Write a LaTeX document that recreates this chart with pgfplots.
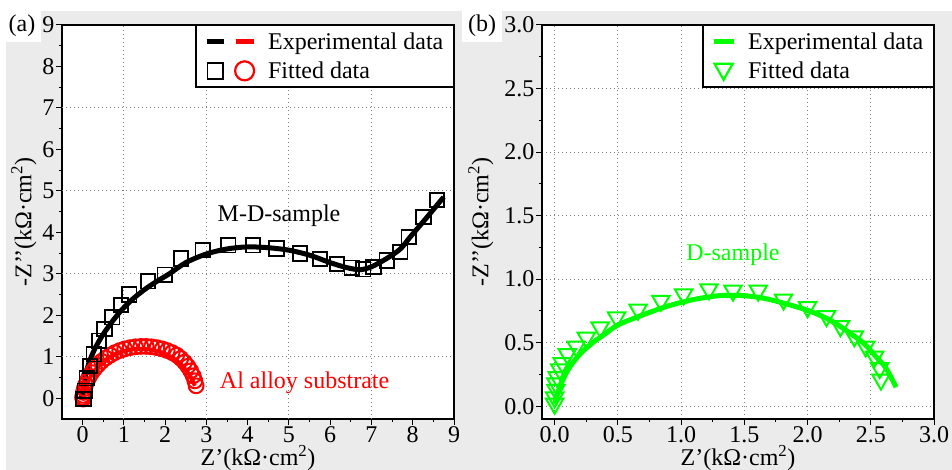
\documentclass[border=0pt]{standalone}
\usepackage{fontspec}
\setmainfont{Liberation Serif}
\usepackage{pgfplots}
\pgfplotsset{compat=1.18}
\definecolor{bgray}{RGB}{235,235,235}
\definecolor{ggreen}{RGB}{0,255,0}
\definecolor{rred}{RGB}{255,0,0}
\newcommand\fs{\fontsize{24bp}{28bp}\selectfont}

\pgfplotsset{
  panel/.style={
    scale only axis, width=392bp, height=394bp, anchor=south west,
    axis background/.style={fill=white},
    axis line style={line width=1.3bp},
    tick align=outside, xtick pos=bottom, ytick pos=left,
    major tick length=6bp, minor tick length=3bp,
    every tick/.style={black, line width=1bp},
    tick label style={font=\fs, inner sep=1.5bp},
    /pgf/number format/assume math mode=true,
    label style={font=\fs},
    xlabel={Z’(kΩ·cm\textsuperscript{2})},
    ylabel={-Z’’(kΩ·cm\textsuperscript{2})},
    xlabel style={at={(axis description cs:0.5,-0.1)}, anchor=center},
    grid style={gray, line width=0.9bp, dash pattern=on 1bp off 3bp},
    legend style={at={(1,1)}, anchor=north east, draw=black, fill=white,
      line width=1.3bp, font=\fs, inner xsep=8bp, inner ysep=5bp, row sep=7bp,
      /tikz/every odd column/.append style={column sep=10bp}},
    legend cell align=left,
  },
}

\begin{document}
\begin{tikzpicture}[x=1bp,y=1bp]
\useasboundingbox (0,0) rectangle (952,470);
\fill[white] (0,0) rectangle (952,470);
\fill[bgray] (6,0) rectangle (952,459);
\fill[white] (0,428) rectangle (41,459);
\fill[white] (462,428) rectangle (502,459);
\node[font=\fs, inner sep=0] at (22,444) {(a)};
\node[font=\fs, inner sep=0] at (482,444) {(b)};

% ---------- (a) ----------
\begin{axis}[panel, at={(62bp,51bp)},
  xmin=-0.5, xmax=9, ymin=-0.5, ymax=9,
  xtick={0,1,...,9}, ytick={0,1,...,9},
  minor x tick num=1, minor y tick num=1,
  extra x ticks={1,3,5,7}, extra y ticks={1,3,5,7},
  extra x tick labels={}, extra y tick labels={},
  extra tick style={grid=major, major tick length=0pt},
  ylabel style={at={(axis description cs:-0.097,0.5)}, anchor=center},
]
\addlegendimage{legend image code/.code={
  \draw[black, line width=5bp] (0bp,0bp) -- (17bp,0bp);
  \draw[rred, line width=5bp] (29bp,0bp) -- (47bp,0bp);}}
\addlegendentry{Experimental data}
\addlegendimage{legend image code/.code={
  \draw[black, line width=1.8bp] (0.9bp,-8bp) rectangle (16.1bp,8bp);
  \draw[rred, line width=2.2bp] (38bp,0bp) circle (9.5bp);}}
\addlegendentry{Fitted data}

% Al alloy substrate: experimental
\addplot[forget plot, rred, line width=4bp, smooth] coordinates {
 (0.02,-0.03) (0.05,0.15) (0.10,0.32) (0.18,0.50) (0.30,0.68) (0.45,0.84)
 (0.62,0.97) (0.80,1.07) (1.00,1.14) (1.20,1.18) (1.40,1.19) (1.60,1.18)
 (1.80,1.14) (2.00,1.07) (2.20,0.96) (2.38,0.82) (2.52,0.66) (2.63,0.50) (2.72,0.30)
};
% Al alloy substrate: fitted
\addplot[forget plot, only marks, mark=o, mark size=7.4bp, rred,
  mark options={line width=2bp}] coordinates {
 (0.01,-0.02) (0.00,0.02) (0.01,0.07) (0.02,0.14) (0.04,0.23) (0.07,0.32)
 (0.11,0.42) (0.16,0.52) (0.22,0.62) (0.29,0.71) (0.37,0.80) (0.46,0.89)
 (0.56,0.97) (0.67,1.04) (0.78,1.10) (0.90,1.15) (1.02,1.19) (1.15,1.22)
 (1.28,1.24) (1.41,1.25) (1.54,1.25) (1.67,1.24) (1.80,1.22) (1.93,1.19)
 (2.05,1.15) (2.17,1.10) (2.28,1.04) (2.38,0.96) (2.47,0.87) (2.55,0.77)
 (2.62,0.66) (2.68,0.54) (2.72,0.42) (2.75,0.30)
};
% M-D-sample: experimental
\addplot[forget plot, black, line width=5bp, smooth] coordinates {
 (-0.03,0.00) (0.02,0.30) (0.08,0.60) (0.17,0.90) (0.30,1.20) (0.47,1.50)
 (0.68,1.80) (0.92,2.10) (1.20,2.38) (1.50,2.62) (1.80,2.82) (2.10,3.00)
 (2.50,3.27) (3.00,3.48) (3.50,3.60) (4.00,3.65) (4.50,3.63) (5.00,3.57)
 (5.50,3.45) (6.00,3.27) (6.40,3.15) (6.72,3.10) (7.00,3.17) (7.37,3.37)
 (7.70,3.60) (7.94,3.89) (8.35,4.37) (8.75,4.85)
};
% M-D-sample: fitted
\addplot[forget plot, only marks, mark=square, mark size=7.2bp, black,
  mark options={line width=1.8bp}] coordinates {
 (0.02,-0.02) (0.05,0.18) (0.10,0.48) (0.18,0.78) (0.27,1.06) (0.40,1.39)
 (0.53,1.67) (0.72,1.95) (0.93,2.25) (1.13,2.50) (1.58,2.82) (1.99,2.98)
 (2.38,3.37) (2.91,3.57) (3.53,3.69) (4.13,3.69) (4.70,3.61) (5.27,3.49)
 (5.75,3.36) (6.16,3.24) (6.52,3.15) (6.80,3.11) (7.05,3.16) (7.37,3.32)
 (7.70,3.53) (7.90,3.89) (8.26,4.37) (8.59,4.78)
};
\node[font=\fs, black] at (axis cs:4.76,4.41) {M-D-sample};
\node[font=\fs, rred] at (axis cs:5.38,0.38) {Al alloy substrate};
\end{axis}

% ---------- (b) ----------
\begin{axis}[panel, at={(542bp,51bp)},
  xmin=-0.1, xmax=3, ymin=-0.1, ymax=3,
  xtick={0,0.5,...,3}, ytick={0,0.5,...,3},
  minor x tick num=1, minor y tick num=1,
  grid=major,
  ylabel style={at={(axis description cs:-0.156,0.5)}, anchor=center},
  xticklabel style={/pgf/number format/.cd, fixed, fixed zerofill, precision=1},
  yticklabel style={/pgf/number format/.cd, fixed, fixed zerofill, precision=1},
]
\addlegendimage{legend image code/.code={
  \draw[ggreen, line width=5bp] (0bp,0bp) -- (20bp,0bp);}}
\addlegendentry{Experimental data}
\addlegendimage{legend image code/.code={
  \draw[ggreen, line width=2.2bp] (1bp,7bp) -- (19bp,7bp) -- (10bp,-9bp) -- cycle;}}
\addlegendentry{Fitted data}

\addplot[forget plot, ggreen, line width=5bp, smooth] coordinates {
 (0.00,0.02) (0.03,0.12) (0.07,0.22) (0.12,0.31) (0.20,0.41) (0.30,0.50)
 (0.40,0.57) (0.50,0.64) (0.70,0.72) (0.90,0.79) (1.10,0.84) (1.30,0.87)
 (1.50,0.87) (1.70,0.84) (2.00,0.755) (2.20,0.665) (2.40,0.53) (2.46,0.48)
 (2.55,0.38) (2.62,0.30) (2.70,0.15)
};
\addplot[forget plot, only marks, mark=triangle, mark size=10bp, ggreen,
  mark options={line width=2bp, rotate=180}] coordinates {
 (0.00,0.02) (0.00,0.07) (0.01,0.13) (0.01,0.18) (0.02,0.23) (0.04,0.29)
 (0.06,0.34) (0.10,0.41) (0.17,0.47) (0.25,0.54) (0.36,0.62) (0.49,0.70)
 (0.66,0.76) (0.84,0.83) (1.02,0.88) (1.22,0.92) (1.41,0.91) (1.61,0.91)
 (1.81,0.84) (2.00,0.78) (2.15,0.71) (2.26,0.63) (2.37,0.55) (2.46,0.47)
 (2.53,0.39) (2.57,0.30) (2.58,0.21)
};
\node[font=\fs, ggreen] at (axis cs:1.41,1.19) {D-sample};
\end{axis}
\end{tikzpicture}
\end{document}
